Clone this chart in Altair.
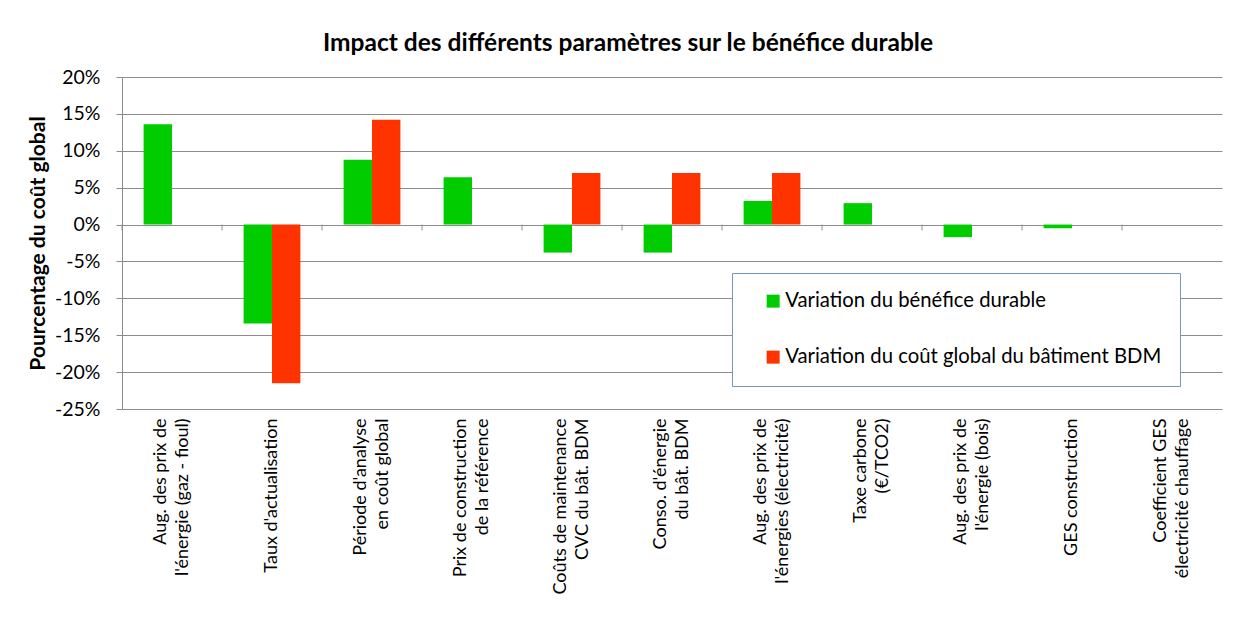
import altair as alt
import pandas as pd

categories = [
    "Aug. des prix de\nl'énergie (gaz - fioul)",
    "Taux d'actualisation",
    "Période d'analyse\nen coût global",
    "Prix de construction\nde la référence",
    "Coûts de maintenance\nCVC du bât. BDM",
    "Conso. d'énergie\ndu bât. BDM",
    "Aug. des prix de\nl'énergies (électricité)",
    "Taxe carbone\n(€/TCO2)",
    "Aug. des prix de\nl'énergie (bois)",
    "GES construction",
    "Coefficient GES\nélectricité chauffage",
]
benefice = [13.6, -13.4, 8.8, 6.4, -3.8, -3.8, 3.2, 2.9, -1.7, -0.5, None]
cout_global = [None, -21.5, 14.2, None, 7.0, 7.0, 7.0, None, None, None, None]
series = ["Variation du bénéfice durable", "Variation du coût global du bâtiment BDM"]
colors = ["#00CC00", "#FF3300"]
y_ticks = [-25, -20, -15, -10, -5, 0, 5, 10, 15, 20]

rows = []
for c, b, g in zip(categories, benefice, cout_global):
    if b is not None:
        rows.append({"cat": c, "serie": series[0], "value": b})
    if g is not None:
        rows.append({"cat": c, "serie": series[1], "value": g})
df = pd.DataFrame(rows)
# tick marks on the 0 % line: from 0 down a short way
tick_df = pd.DataFrame({"cat": categories, "lo": [0.0] * len(categories), "hi": [-0.8] * len(categories)})

GRID = "#8c8c8c"
FONT = "Lato"
PLOT_W = 1100
STEP = PLOT_W / len(categories)

x_enc = alt.X(
    "cat:N",
    sort=categories,
    scale=alt.Scale(domain=categories, paddingInner=0, paddingOuter=0),
    axis=alt.Axis(
        title=None,
        orient="bottom",
        domain=False,
        ticks=False,
        labelAngle=-90,
        labelAlign="right",
        labelBaseline="middle",
        labelPadding=9,
        labelFontSize=18,
        labelLineHeight=22,
        labelLimit=400,
        labelColor="#000000",
        labelOffset=alt.condition(
            "indexof(datum.value, '\\n') >= 0", alt.value(-11), alt.value(0)
        ),
        labelExpr="split(datum.label, '\\n')",
    ),
)

y_enc = alt.Y(
    "value:Q",
    scale=alt.Scale(domain=[-25, 20], nice=False),
    axis=alt.Axis(
        values=y_ticks,
        tickCount=len(y_ticks),
        labelOverlap=False,
        title="Pourcentage du coût global",
        titleFontSize=21,
        titleFontWeight="bold",
        titleColor="#000000",
        titlePadding=6,
        labelFontSize=19.5,
        labelColor="#000000",
        labelPadding=16,
        labelExpr="(datum.value < 0 ? '-' : '') + abs(datum.value) + '%'",
        tickSize=6,
        tickColor=GRID,
        domainColor=GRID,
        gridColor=GRID,
        gridWidth=1,
    ),
)

bars = alt.Chart(df).mark_bar().encode(
    x=x_enc,
    xOffset=alt.XOffset(
        "serie:N",
        sort=series,
        scale=alt.Scale(domain=series, paddingInner=0, paddingOuter=0.76),
    ),
    y=y_enc,
    color=alt.Color(
        "serie:N",
        scale=alt.Scale(domain=series, range=colors),
        legend=alt.Legend(
            title=None,
            orient="none",
            legendX=610,
            legendY=196,
            fillColor="#ffffff",
            strokeColor="#7394c4",
            padding=18,
            symbolOffset=13,
            labelOffset=2,
            symbolType="square",
            symbolSize=169,
            symbolStrokeWidth=0,
            labelFontSize=20.3,
            labelColor="#000000",
            labelLimit=500,
            rowPadding=35,
        ),
    ),
)

ticks = alt.Chart(tick_df).mark_rule(color=GRID, strokeWidth=1, xOffset=-STEP / 2).encode(
    x=alt.X("cat:N", sort=categories),
    y=alt.Y("lo:Q"),
    y2=alt.Y2("hi:Q"),
)

chart = (
    alt.layer(bars, ticks)
    .properties(
        width=PLOT_W,
        height=332,
        padding={"left": 19, "top": 22, "right": 5, "bottom": 5},
        title=alt.TitleParams(
            "Impact des différents paramètres sur le bénéfice durable",
            fontSize=24.5,
            fontWeight="bold",
            color="#000000",
            anchor="middle",
            offset=11,
            dx=-44,
        ),
    )
    .configure(font=FONT)
    .configure_view(stroke=None)
)

chart.save("out.html", embed_options={"renderer": "svg", "actions": False})
